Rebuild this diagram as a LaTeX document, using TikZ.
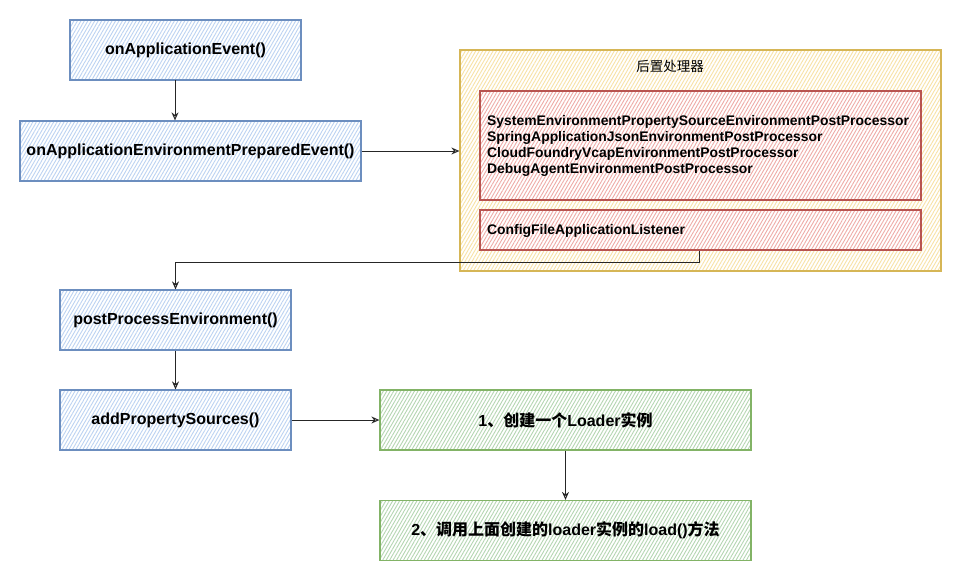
\documentclass[tikz,border=0pt]{standalone}
\usepackage{fontspec}
\setmainfont{Liberation Sans}
\newfontfamily\cjk{Noto Sans CJK SC}
\usetikzlibrary{positioning,arrows.meta,patterns.meta}

\definecolor{blueFill}{HTML}{BCD3F2}
\definecolor{blueLine}{HTML}{6C8EBF}
\definecolor{yellowFill}{HTML}{F8E2A6}
\definecolor{yellowLine}{HTML}{D6B656}
\definecolor{redFill}{HTML}{EFABA7}
\definecolor{redLine}{HTML}{B85450}
\definecolor{greenFill}{HTML}{B5D6B2}
\definecolor{greenLine}{HTML}{82B366}

\tikzset{
    hatched/.style 2 args={draw=#1, line width=1.2pt, preaction={fill=white},
        pattern={Lines[angle=60,distance=3pt,line width=0.9pt]}, pattern color=#2},
    callbox/.style={hatched={blueLine}{blueFill}, minimum height=60pt, inner sep=0pt,
        font=\bfseries\fontsize{16}{19}\selectfont},
    stepbox/.style={hatched={greenLine}{greenFill}, minimum width=371pt, minimum height=60pt,
        inner sep=0pt, font=\bfseries\fontsize{16}{19}\selectfont},
    procbox/.style={hatched={redLine}{redFill}, minimum width=441pt, inner sep=0pt},
    arr/.style={draw=black!85, line width=1pt, -{Stealth[open, length=8pt, width=7pt]}}
}

\begin{document}
\begin{tikzpicture}[x=1pt, y=-1pt]
    \useasboundingbox (0,0) rectangle (961,581);

    % left column
    \node[callbox, minimum width=231pt] (onevent) at (185.5, 50) {onApplicationEvent()};
    \node[callbox, minimum width=341pt] (prepared) at (190.5, 151) {onApplicationEnvironmentPreparedEvent()};
    \node[callbox, minimum width=231pt] (postproc) at (175.5, 320) {postProcessEnvironment()};
    \node[callbox, minimum width=231pt] (addsrc) at (175.5, 420) {addPropertySources()};

    % post processors
    \node[hatched={yellowLine}{yellowFill}, minimum width=481pt, minimum height=221pt,
        inner sep=0pt] (group) at (700.5, 160.5) {};
    \node[font=\cjk\fontsize{13.5}{16}\selectfont] (grouptitle) at (670, 66) {后置处理器};
    \node[procbox, minimum height=109pt] (processors) at (700.5, 145.5) {};
    \node[anchor=west, align=left, inner sep=0pt,
        font=\bfseries\fontsize{13.9}{16}\selectfont] (proclist) at (487, 146)
        {SystemEnvironmentPropertySourceEnvironmentPostProcessor\\
         SpringApplicationJsonEnvironmentPostProcessor\\
         CloudFoundryVcapEnvironmentPostProcessor\\
         DebugAgentEnvironmentPostProcessor};
    \node[procbox, minimum height=40pt] (listener) at (700.5, 230) {};
    \node[anchor=west, inner sep=0pt, font=\bfseries\fontsize{13.9}{16}\selectfont]
        (listenername) at (487, 231) {ConfigFileApplicationListener};

    % load steps
    \node[stepbox] (newloader) at (565.5, 420) {1{\cjk\bfseries 、创建一个}Loader{\cjk\bfseries 实例}};
    \node[stepbox] (callload) at (565.5, 530.5) {2{\cjk\bfseries 、调用上面创建的}loader{\cjk\bfseries 实例的}load(){\cjk\bfseries 方法}};

    % connectors
    \draw[arr] ([xshift=-10.5pt]onevent.south) -- ([xshift=-10.5pt]onevent.south |- prepared.north);
    \draw[arr] (prepared.east) -- (prepared.east -| group.west);
    \draw[arr] ([xshift=-1.5pt]listener.south) -- ++(0,12) -| (postproc.north);
    \draw[arr] (postproc) -- (addsrc);
    \draw[arr] (addsrc) -- (newloader);
    \draw[arr] (newloader) -- (callload);
\end{tikzpicture}
\end{document}
